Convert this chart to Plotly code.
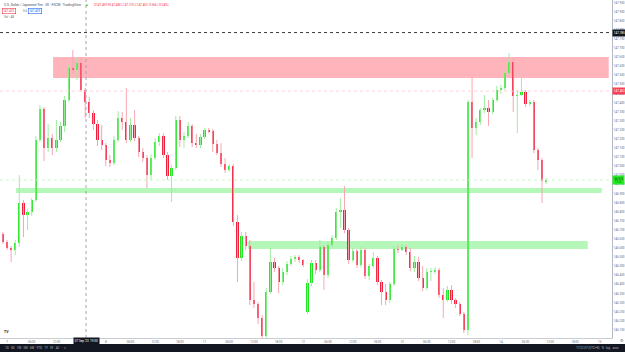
import plotly.graph_objects as go

# ---------------- data (USD/JPY, hourly candles) ----------------
open_ = [146.677, 146.633, 146.600, 146.589, 146.627, 146.847, 146.781, 146.798, 146.864, 147.194,
         147.364, 147.150, 147.205, 147.150, 147.194, 147.271, 147.414, 147.590, 147.579, 147.617,
         147.469, 147.403, 147.342, 147.282, 147.194, 147.166, 147.084, 147.067, 147.194, 147.315,
         147.293, 147.194, 147.276, 147.205, 147.128, 147.095, 147.001, 147.095, 147.183, 147.216,
         147.111, 146.996, 147.040, 147.304, 147.194, 147.216, 147.271, 147.177, 147.166, 147.210,
         147.249, 147.243, 147.172, 147.122, 147.062, 147.029, 147.051, 146.743, 146.545, 146.666,
         146.611, 146.314, 146.292, 146.215, 146.116, 146.358, 146.523, 146.490, 146.413, 146.468,
         146.512, 146.539, 146.550, 146.534, 146.248, 146.407, 146.517, 146.479, 146.605, 146.451,
         146.616, 146.655, 146.798, 146.809, 146.699, 146.534, 146.583, 146.506, 146.589, 146.446,
         146.501, 146.545, 146.413, 146.358, 146.314, 146.402, 146.594, 146.589, 146.605, 146.578,
         146.490, 146.523, 146.435, 146.380, 146.468, 146.473, 146.479, 146.341, 146.314, 146.369,
         146.314, 146.292, 146.237, 146.149, 147.403, 147.260, 147.293, 147.359, 147.370, 147.348,
         147.414, 147.469, 147.480, 147.562, 147.623, 147.436, 147.441, 147.458, 147.392, 147.403,
         147.139, 147.084, 146.968]
high_ = [146.688, 146.644, 146.611, 146.644, 147.001, 146.864, 146.814, 146.875, 147.216, 147.386,
         147.375, 147.282, 147.227, 147.304, 147.293, 147.436, 147.606, 147.689, 147.650, 147.645,
         147.480, 147.430, 147.359, 147.304, 147.276, 147.177, 147.111, 147.216, 147.353, 147.348,
         147.480, 147.315, 147.359, 147.216, 147.150, 147.111, 147.117, 147.205, 147.232, 147.232,
         147.128, 147.056, 147.326, 147.326, 147.238, 147.293, 147.282, 147.227, 147.227, 147.260,
         147.260, 147.254, 147.194, 147.177, 147.095, 147.062, 147.062, 146.781, 146.688, 146.688,
         146.644, 146.413, 146.303, 146.231, 146.380, 146.600, 146.545, 146.501, 146.490, 146.528,
         146.556, 146.561, 146.561, 146.539, 146.429, 146.534, 146.534, 146.644, 146.616, 146.633,
         146.671, 146.820, 146.875, 146.941, 146.710, 146.600, 146.594, 146.605, 146.600, 146.512,
         146.578, 146.556, 146.424, 146.402, 146.413, 146.611, 146.616, 146.622, 146.616, 146.600,
         146.556, 146.550, 146.501, 146.490, 146.490, 146.495, 146.490, 146.380, 146.391, 146.396,
         146.325, 146.303, 146.248, 147.414, 147.540, 147.315, 147.370, 147.441, 147.414, 147.425,
         147.491, 147.496, 147.579, 147.672, 147.645, 147.469, 147.579, 147.469, 147.414, 147.414,
         147.150, 147.095, 146.985]
low_ = [146.622, 146.589, 146.523, 146.561, 146.605, 146.660, 146.699, 146.776, 146.853, 147.183,
        147.078, 147.128, 147.111, 147.128, 147.183, 147.238, 147.403, 147.557, 147.524, 147.458,
        147.315, 147.315, 147.249, 147.161, 147.139, 147.051, 147.045, 147.056, 147.183, 147.249,
        147.177, 147.183, 147.188, 147.100, 147.073, 146.930, 146.974, 147.084, 147.161, 147.095,
        146.974, 146.853, 147.029, 147.155, 147.150, 147.205, 147.155, 147.150, 147.150, 147.199,
        147.232, 147.128, 147.111, 147.045, 147.012, 147.018, 146.721, 146.413, 146.528, 146.589,
        146.286, 146.270, 146.182, 146.094, 146.094, 146.347, 146.468, 146.352, 146.396, 146.451,
        146.501, 146.523, 146.517, 146.495, 146.237, 146.391, 146.457, 146.468, 146.369, 146.435,
        146.605, 146.644, 146.710, 146.682, 146.512, 146.523, 146.490, 146.495, 146.429, 146.424,
        146.490, 146.396, 146.286, 146.286, 146.297, 146.391, 146.572, 146.583, 146.561, 146.473,
        146.468, 146.418, 146.363, 146.369, 146.418, 146.457, 146.325, 146.215, 146.303, 146.292,
        146.270, 146.226, 146.132, 146.121, 147.095, 147.221, 147.276, 147.342, 147.271, 147.337,
        147.403, 147.447, 147.469, 147.551, 147.348, 147.232, 147.436, 147.375, 147.381, 147.122,
        147.029, 146.847, 146.952]
close_ = [146.633, 146.600, 146.589, 146.627, 146.847, 146.781, 146.798, 146.864, 147.194, 147.364,
          147.150, 147.205, 147.150, 147.194, 147.271, 147.414, 147.590, 147.579, 147.617, 147.469,
          147.403, 147.342, 147.282, 147.194, 147.166, 147.084, 147.067, 147.194, 147.315, 147.293,
          147.194, 147.276, 147.205, 147.128, 147.095, 147.001, 147.095, 147.183, 147.216, 147.111,
          146.996, 147.040, 147.304, 147.194, 147.216, 147.271, 147.177, 147.166, 147.210, 147.249,
          147.243, 147.172, 147.122, 147.062, 147.029, 147.051, 146.743, 146.545, 146.666, 146.611,
          146.314, 146.292, 146.215, 146.116, 146.358, 146.523, 146.490, 146.413, 146.468, 146.512,
          146.539, 146.550, 146.534, 146.506, 146.407, 146.517, 146.479, 146.605, 146.451, 146.616,
          146.655, 146.798, 146.809, 146.699, 146.534, 146.583, 146.506, 146.589, 146.446, 146.501,
          146.545, 146.413, 146.358, 146.314, 146.402, 146.594, 146.589, 146.605, 146.578, 146.490,
          146.523, 146.435, 146.380, 146.468, 146.473, 146.479, 146.341, 146.314, 146.369, 146.314,
          146.292, 146.237, 146.149, 147.403, 147.260, 147.293, 147.359, 147.370, 147.348, 147.414,
          147.469, 147.480, 147.562, 147.623, 147.436, 147.441, 147.458, 147.392, 147.403, 147.139,
          147.084, 146.968, 146.974]
first_bar = -1  # index (hours from 7 Sep 00:00) of the first candle

# time-axis labels
tick_pos = [0, 6, 12, 24, 30, 36, 42, 48, 54, 60, 66, 72, 78, 84, 90, 96, 102, 108, 114, 120,
            126, 132, 138, 144]
tick_text = ["7", "06:00", "12:00", "8", "06:00", "12:00", "18:00", "11", "06:00", "12:00",
             "18:00", "12", "06:00", "12:00", "18:00", "13", "06:00", "12:00", "18:00", "14",
             "06:00", "12:00", "18:00", "15"]

# supply / demand zones
zone_x0 = [11.2, 2.2, 58.5]
zone_x1 = [146.2, 144.5, 141.1]
zone_top = [147.650, 146.930, 146.638]
zone_bot = [147.535, 146.903, 146.594]
zone_fill = ["#ffb3bb", "#b4f7b8", "#b4f7b8"]

cross_x = 19.2
cross_price = 147.785
ref_price = 147.463

# ---------------- styling ----------------
UP, DOWN = "#1ee61e", "#f21e3c"
WICK_UP, WICK_DN = "#9fee9f", "#f8a6b2"
GREY = "#6a6d78"
FONT = "Roboto"

n = len(close_)
x_idx = list(range(first_bar, first_bar + n))
is_up = [c >= o for o, c in zip(open_, close_)]

fig = go.Figure()

for flag, col in ((True, WICK_UP), (False, WICK_DN)):
    xs, ys = [], []
    for xi, hi, lo, u in zip(x_idx, high_, low_, is_up):
        if u == flag:
            xs += [xi, xi, None]
            ys += [lo, hi, None]
    fig.add_trace(go.Scatter(x=xs, y=ys, mode="lines", line=dict(color=col, width=1),
                             hoverinfo="skip", showlegend=False))

fig.add_trace(go.Bar(
    x=x_idx, y=[c - o for o, c in zip(open_, close_)], base=open_, width=0.55,
    marker=dict(color=[UP if u else DOWN for u in is_up], line=dict(width=0)),
    hoverinfo="skip", showlegend=False))

shapes = []
for x0, x1, t, b, col in zip(zone_x0, zone_x1, zone_top, zone_bot, zone_fill):
    shapes.append(dict(type="rect", xref="x", yref="y", x0=x0, x1=x1, y0=b, y1=t,
                       fillcolor=col, line=dict(width=0), layer="below"))
# last price / reference lines (faint)
shapes.append(dict(type="line", xref="paper", yref="y", x0=0, x1=1, y0=ref_price, y1=ref_price,
                   line=dict(color="#fbd3d9", width=1, dash="dot")))
shapes.append(dict(type="line", xref="paper", yref="y", x0=0, x1=1, y0=close_[-1], y1=close_[-1],
                   line=dict(color="#cdf5cd", width=1, dash="dot")))
# crosshair
shapes.append(dict(type="line", xref="paper", yref="y", x0=0, x1=1, y0=cross_price, y1=cross_price,
                   line=dict(color="#3a3a3a", width=1, dash="dot")))
shapes.append(dict(type="line", xref="x", yref="paper", x0=cross_x, x1=cross_x, y0=0, y1=1,
                   line=dict(color="#a3a6ae", width=1, dash="dot")))
# bottom toolbar
shapes.append(dict(type="rect", xref="paper", yref="paper", x0=-0.01, x1=1.03,
                   y0=-0.05, y1=-0.0178, fillcolor="#131722", line=dict(width=0), layer="above"))

ann = []
def txt(x, y, s, color=GREY, size=3, xanchor="left", yanchor="middle", xref="paper", yref="paper", **kw):
    ann.append(dict(x=x, y=y, xref=xref, yref=yref, text=s, showarrow=False, xanchor=xanchor,
                    yanchor=yanchor, font=dict(family=FONT, size=size, color=color), **kw))

# legend rows (top-left)
txt(0.003, 0.985, "U.S. Dollar / Japanese Yen · 30 · FXCM · TradingView", color="#4a4d58", size=3.3)
txt(0.1365, 0.985, "■", color="#26c426", size=3)
i = int(cross_x) - first_bar
chg = close_[i] - open_[i]
txt(0.150, 0.985, "O%.3f H%.3f L%.3f C%.3f %+.3f (%+.2f%%)" % (open_[i], high_[i], low_[i], close_[i], chg,
                                                                 chg / open_[i] * 100), color="#f23645")
txt(0.003, 0.9675, "%.3f" % close_[i], color="#f23645", bordercolor="#f23645", borderwidth=0.6, borderpad=0.6)
txt(0.034, 0.9675, "0.6", color=GREY)
txt(0.046, 0.9675, "%.3f" % (close_[i] + 0.006), color="#2962ff", bordercolor="#2962ff", borderwidth=0.6,
    borderpad=0.6)
txt(0.003, 0.951, "Vol · 48", color=GREY)
txt(0.004, 0.018, "<b>TV</b>", color="#131722", size=3.5)

# price-axis labels
txt(1.0, cross_price, "%.3f" % cross_price, color="#ffffff", yref="y", bgcolor="#131722", borderpad=0.8)
txt(1.0, ref_price, "%.3f" % ref_price, color="#ffffff", yref="y", bgcolor="#f7425a", borderpad=0.8)
txt(1.0, close_[-1], "%.3f<br>11:23" % close_[-1], color="#1b3a1b", yref="y", bgcolor="#22ee22",
    borderpad=0.5, size=2.6)
# crosshair time label
txt(cross_x, -0.009, "07 Sep '23  19:00", color="#ffffff", xref="x", xanchor="center",
    bgcolor="#131722", borderpad=0.8)
# toolbar texts
txt(0.005, -0.0296, "1D   5D   1M   3M   6M   YTD   1Y   5Y   All   ·   ⌗", color="#b2b5be")
txt(1.015, -0.0296, "17:22:57 (UTC+8)   %   log   auto", color="#b2b5be", xanchor="right")
txt(1.01, -0.009, "⚙", color=GREY, size=3.5)

fig.update_layout(
    width=625, height=352, autosize=False,
    margin=dict(l=0, r=13, t=0, b=14, pad=0),
    paper_bgcolor="#ffffff", plot_bgcolor="#ffffff",
    showlegend=False, hovermode=False, bargap=0,
    font=dict(family=FONT, size=3, color=GREY),
    shapes=shapes, annotations=ann,
    xaxis=dict(range=[-1.7, 147.0], tickvals=tick_pos, ticktext=tick_text, showgrid=False,
               zeroline=False, showline=True, linecolor="#c9ccd3", linewidth=1, ticks="",
               tickfont=dict(size=3, color=GREY, family=FONT), fixedrange=True),
    yaxis=dict(range=[146.105, 147.964], side="right", tick0=146.0, dtick=0.05, tickformat=".3f",
               showgrid=False, zeroline=False, showline=True, linecolor="#b6b9c1", linewidth=1,
               ticks="", tickfont=dict(size=3, color=GREY, family=FONT), fixedrange=True),
)

fig.write_html("out.html")
